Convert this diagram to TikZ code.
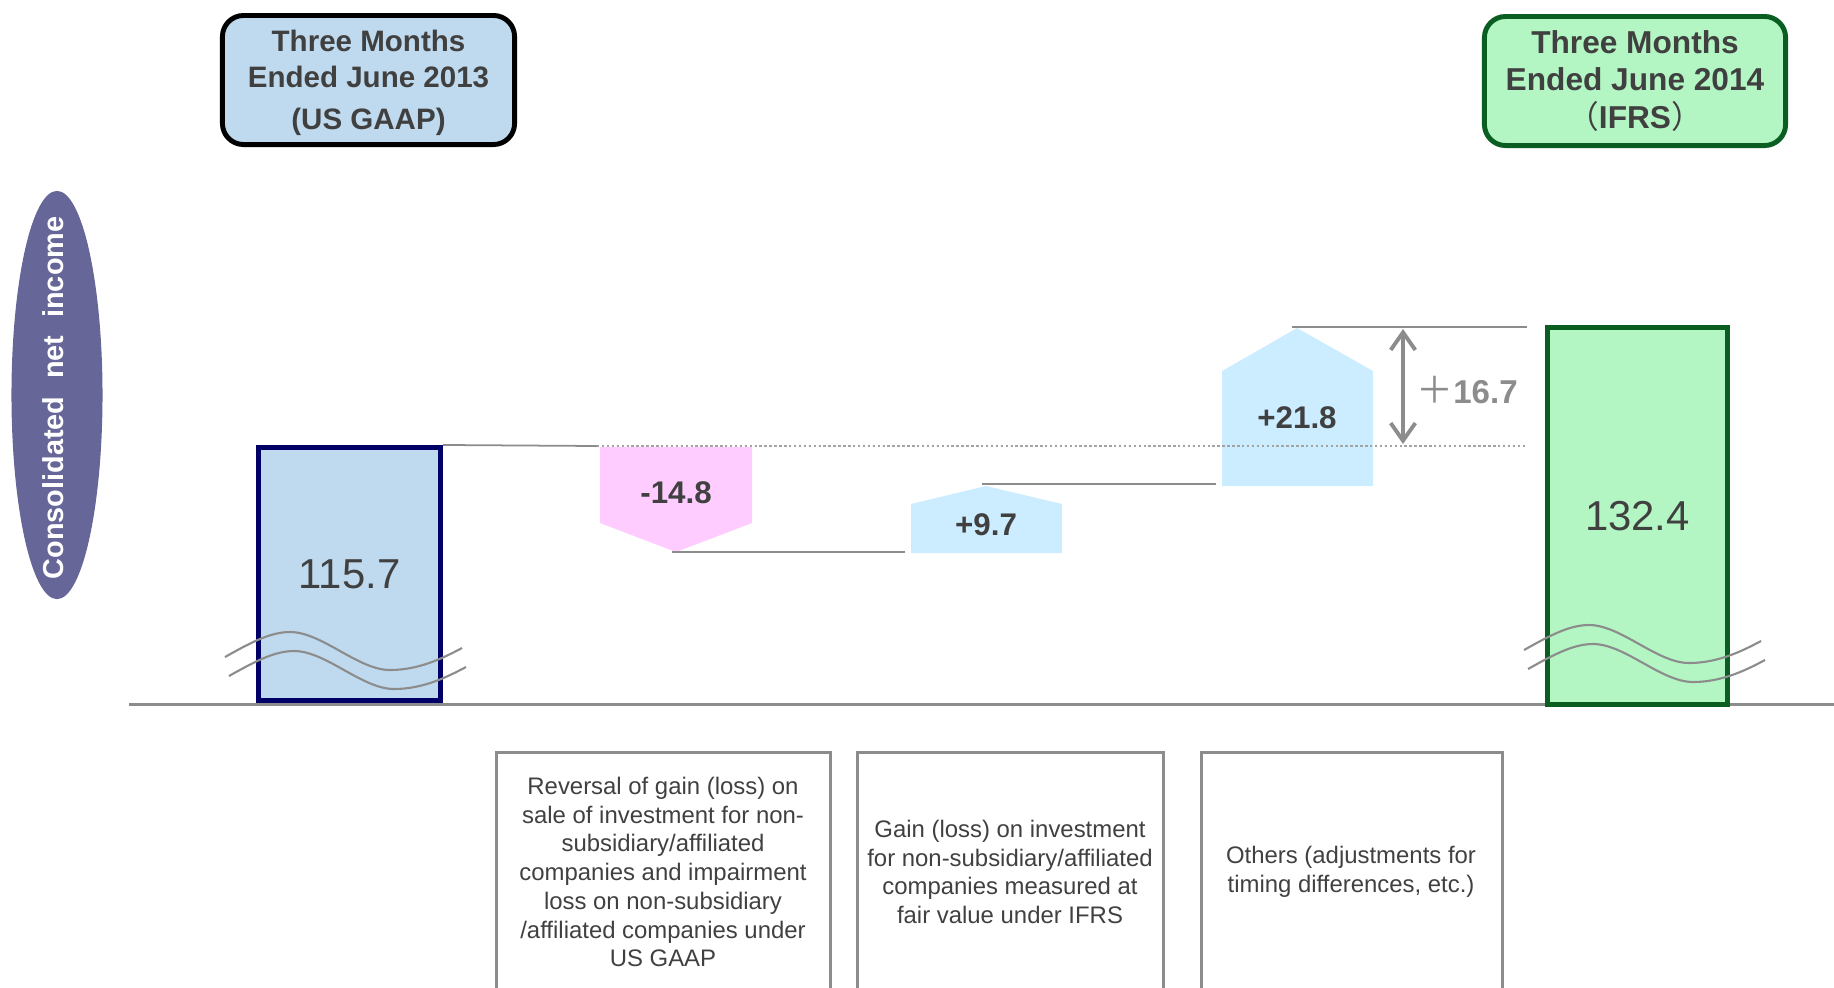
\documentclass[tikz,border=0pt]{standalone}
\usepackage{fontspec}
\setmainfont{Liberation Sans}
\newfontfamily\cjkfont{Noto Sans CJK JP}
\usetikzlibrary{shapes.geometric,arrows.meta}
\definecolor{txt}{HTML}{404040}
\definecolor{lblue}{HTML}{BFDAEE}
\definecolor{navy}{HTML}{000066}
\definecolor{lgreen}{HTML}{B3F6C4}
\definecolor{dgreen}{HTML}{0A5E22}
\definecolor{pinkf}{HTML}{FFCCFF}
\definecolor{cyanf}{HTML}{CCECFF}
\definecolor{slate}{HTML}{666699}
\definecolor{lgray}{HTML}{8C8C8C}
\begin{document}
\begin{tikzpicture}[x=0.01cm,y=-0.01cm,
  hdr/.style={rounded corners=6pt, line width=1.4pt, inner sep=0pt, align=center, text=txt,
     font=\fontsize{8.4}{10}\selectfont\bfseries},
  bar/.style={line width=1.4pt, inner sep=0pt, text=txt, font=\fontsize{11.9}{13}\selectfont},
  val/.style={text=txt, font=\fontsize{8.9}{10}\selectfont\bfseries, inner sep=0pt},
  conn/.style={draw=lgray, line width=0.5pt},
  dotline/.style={draw=lgray!80, line width=0.4pt, dash pattern=on 0.7pt off 0.7pt},
  wave/.style={draw=lgray, line width=0.6pt},
  expl/.style={draw=lgray, line width=0.85pt},
  expltxt/.style={text=txt, align=center, inner sep=0pt, font=\fontsize{6.8}{8.17}\selectfont}]
\useasboundingbox (0,0) rectangle (1834,987);

% headers
\node[hdr, draw=black, fill=lblue, minimum width=2.92cm, minimum height=1.29cm] (h13) at (368.5,80) {};
\node[hdr, draw=none, fill=none] (h13t) at (368.5,83)
  {Three Months\\Ended June 2013\\[2pt](US GAAP)};
\node[hdr, draw=dgreen, fill=lgreen, minimum width=3.01cm, minimum height=1.29cm,
  font=\fontsize{9}{10.6}\selectfont\bfseries] (h14) at (1635,81)
  {Three Months\\Ended June 2014\\{\cjkfont\mdseries （}IFRS{\cjkfont\mdseries ）}};

% y-axis label
\node[ellipse, fill=slate, minimum width=0.91cm, minimum height=4.08cm, inner sep=0pt] (yl) at (57,395) {};
\node[rotate=90, text=white, inner sep=0pt, font=\fontsize{8.2}{10}\selectfont\bfseries] (yltxt) at (53,398)
  {Consolidated\hspace{0.62em}net\hspace{0.62em}income};

% axis
\coordinate (ax0) at (129,704);
\coordinate (ax1) at (1834,704);
\draw[draw=lgray, line width=0.85pt] (ax0) -- (ax1);

% bars
\node[bar, draw=navy, fill=lblue, minimum width=1.82cm, minimum height=2.53cm] (b13) at (349.5,574) {115.7};
\node[bar, draw=dgreen, fill=lgreen, minimum width=1.80cm, minimum height=3.77cm] (b14) at (1637.5,516) {132.4};

% waves
\foreach \dx/\dy in {0/0, 1299/-7}{
  \begin{scope}[shift={(\dx,\dy)}]
    \draw[wave] (225,657) .. controls (250,643) and (270,632) .. (290,632)
       .. controls (322,632) and (358,670) .. (390,670)
       .. controls (420,670) and (445,657) .. (462,648);
    \draw[wave] (229,676) .. controls (254,662) and (274,651) .. (294,651)
       .. controls (326,651) and (362,689) .. (394,689)
       .. controls (424,689) and (449,676) .. (466,667);
  \end{scope}
}

% step shapes
\fill[pinkf] (600,447) -- (752,447) -- (752,523) -- (676,552) -- (600,523) -- cycle;
\node[val] (v1) at (676,493) {-14.8};
\fill[cyanf] (911,553) -- (1062,553) -- (1062,504) -- (986,486) -- (911,504) -- cycle;
\node[val] (v2) at (986,525) {+9.7};
\fill[cyanf] (1222,486) -- (1373,486) -- (1373,371) -- (1297,328) -- (1222,371) -- cycle;
\node[val] (v3) at (1297,418) {+21.8};

% connectors
\coordinate (d0) at (597,446);
\coordinate (d1) at (1527,446);
\coordinate (e0) at (672,552);
\coordinate (e1) at (905,552);
\coordinate (f0) at (982,484);
\coordinate (f1) at (1216,484);
\coordinate (g0) at (1292,327);
\coordinate (g1) at (1527,327);
\coordinate (arT) at (1403,329);
\coordinate (arB) at (1403,444);
\draw[conn] (b13.north east) -- (d0);
\draw[dotline] (d0) -- (d1);
\draw[conn] (e0) -- (e1);
\draw[conn] (f0) -- (f1);
\draw[conn] (g0) -- (g1);
\draw[draw=lgray, line width=1.1pt, {Straight Barb[length=5pt,width=7pt]}-{Straight Barb[length=5pt,width=7pt]}] (arT) -- (arB);
\node[text=lgray, inner sep=0pt, font=\fontsize{9.4}{10}\selectfont\bfseries] (v4) at (1467,390)
  {{\cjkfont\mdseries\fontsize{10.5}{10}\selectfont ＋}16.7};

% explanation boxes
\draw[expl] (496,990) -- (496,752) -- (830,752) -- (830,990);
\draw[expl] (857,990) -- (857,752) -- (1163,752) -- (1163,990);
\draw[expl] (1201,990) -- (1201,752) -- (1502,752) -- (1502,990);
\node[expltxt] (t1) at (663,872) {Reversal of gain (loss) on\\sale of investment for non-\\subsidiary/affiliated\\companies and impairment\\loss on non-subsidiary\\/affiliated companies under\\US GAAP};
\node[expltxt] (t2) at (1010,872) {Gain (loss) on investment\\for non-subsidiary/affiliated\\companies measured at\\fair value under IFRS};
\node[expltxt] (t3) at (1351,872) {Others (adjustments for\\timing differences, etc.)};
\end{tikzpicture}
\end{document}
